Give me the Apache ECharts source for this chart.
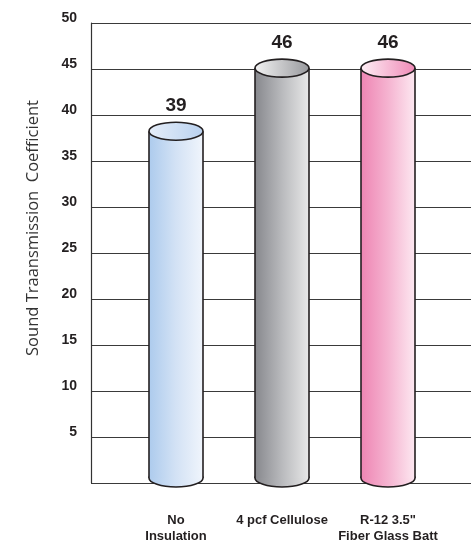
<!DOCTYPE html>
<html>
<head>
<meta charset="utf-8">
<script src="https://cdn.jsdelivr.net/npm/echarts@6/dist/echarts.min.js"></script>
<style>html,body{margin:0;padding:0;background:#fff}#c{width:471px;height:544px}</style>
</head>
<body>
<div id="c"></div>
<script>
const categories = ['No\nInsulation', '4 pcf Cellulose', 'R-12 3.5"\nFiber Glass Batt'];
const values = [39, 46, 46];
const yTicks = [0, 5, 10, 15, 20, 25, 30, 35, 40, 45, 50];
const axisTitle = 'Sound Traansmission  Coefficient';

const bodyColors = [
  ['#adcbed', '#d3e2f5', '#f0f5fc'],
  ['#87888d', '#b9babd', '#e8e8e8'],
  ['#ee85b3', '#f5b3d0', '#fde8f1']
];
const topColors = [
  ['#e6eef9', '#b9d1ef'],
  ['#f3f3f3', '#97989c'],
  ['#fef0f6', '#ef89b6']
];
const FONT_N = "'Liberation Sans', Arial, sans-serif";
const INK = '#231f20';

function grad(cols) {
  const stops = cols.map((c, i) => ({offset: i / (cols.length - 1), color: c}));
  return {type: 'linear', x: 0, y: 0, x2: 1, y2: 0, colorStops: stops};
}

function renderItem(params, api) {
  const idx = api.value(0);
  const v = api.value(1);
  const top = api.coord([idx, v]);
  const base = api.coord([idx, 0]);
  const rx = 27, ry = 9;
  const cx = top[0];
  const ty = top[1] + ry;
  const by = base[1] + 4;
  const i = params.dataIndex;
  return {
    type: 'group',
    children: [
      {type: 'ellipse', shape: {cx: cx, cy: by, rx: rx, ry: ry},
        style: {fill: grad(bodyColors[i]), stroke: INK, lineWidth: 1.6}},
      {type: 'rect', shape: {x: cx - rx, y: ty, width: rx * 2, height: by - ty},
        style: {fill: grad(bodyColors[i])}},
      {type: 'line', shape: {x1: cx - rx, y1: ty, x2: cx - rx, y2: by},
        style: {stroke: INK, lineWidth: 1.6}},
      {type: 'line', shape: {x1: cx + rx, y1: ty, x2: cx + rx, y2: by},
        style: {stroke: INK, lineWidth: 1.6}},
      {type: 'ellipse', shape: {cx: cx, cy: ty, rx: rx, ry: ry},
        style: {fill: grad(topColors[i]), stroke: INK, lineWidth: 1.6}},
      {type: 'text', x: cx, y: top[1] - 16,
        style: {text: String(v), font: "bold 19px " + FONT_N, fill: INK,
          align: 'center', verticalAlign: 'middle'}}
    ]
  };
}

const chart = echarts.init(document.getElementById('c'), null, {renderer: 'canvas'});
chart.setOption({
  animation: false,
  grid: [
    {left: 91, right: 0, top: 23, bottom: 61},
    {left: 123, right: 30, top: 23, bottom: 61}
  ],
  xAxis: [
    {gridIndex: 0, type: 'category', data: categories, show: false},
    {gridIndex: 1, type: 'category', data: categories,
      axisLine: {show: false}, axisTick: {show: false},
      axisLabel: {margin: 38, fontFamily: FONT_N, fontWeight: 'bold',
        fontSize: 13, lineHeight: 16, color: INK, interval: 0}}
  ],
  yAxis: [
    {gridIndex: 0, type: 'value', min: yTicks[0], max: yTicks[yTicks.length - 1], interval: 5,
      axisLine: {show: true, lineStyle: {color: '#333', width: 1.2}},
      axisTick: {show: false},
      splitLine: {show: true, lineStyle: {color: '#3a3a3a', width: 1.2}},
      axisLabel: {margin: 14, fontFamily: FONT_N, fontWeight: 'bold', fontSize: 14,
        color: INK, verticalAlign: 'bottom', lineHeight: 10,
        formatter: v => (v === 0 ? '' : String(v))}},
    {gridIndex: 1, type: 'value', min: yTicks[0], max: yTicks[yTicks.length - 1], interval: 5,
      show: false, splitLine: {show: false}}
  ],
  graphic: [
    {type: 'text', x: 33, y: 228, rotation: Math.PI / 2,
      style: {text: axisTitle, font: "16.5px 'Open Sans', sans-serif", fill: '#333',
        align: 'center', verticalAlign: 'middle'}}
  ],
  series: [{
    type: 'custom',
    xAxisIndex: 1, yAxisIndex: 1,
    renderItem: renderItem,
    data: values.map((v, i) => [i, v]),
    encode: {x: 0, y: 1}
  }]
});
</script>
</body>
</html>
